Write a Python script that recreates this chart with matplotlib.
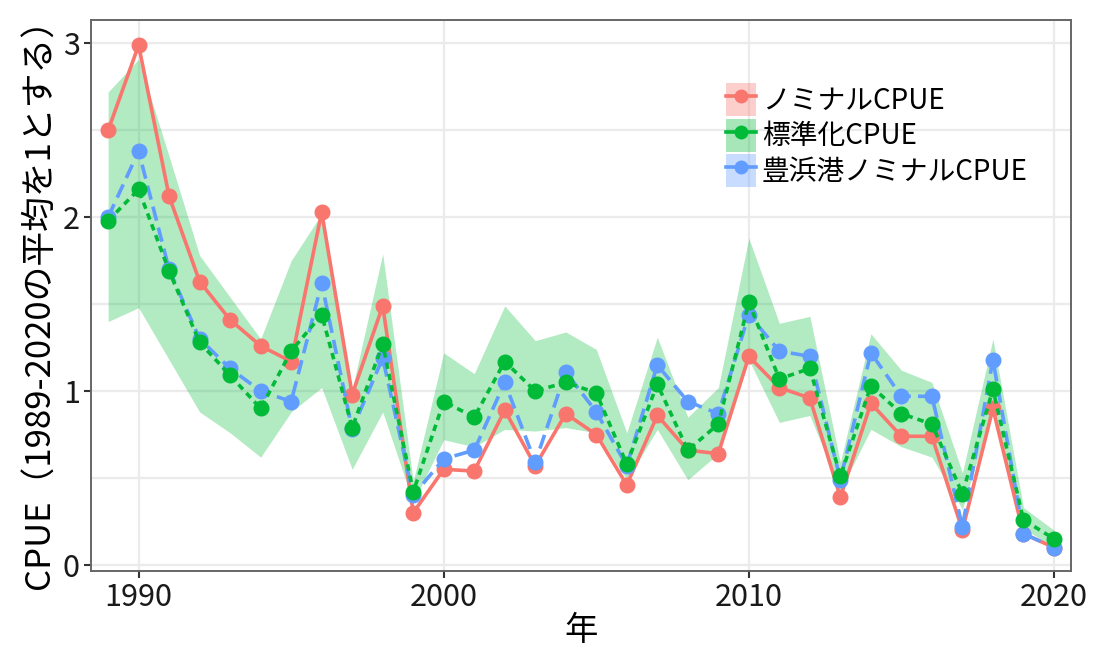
import matplotlib
matplotlib.use("Agg")
import matplotlib.pyplot as plt
from matplotlib.lines import Line2D
from matplotlib.patches import Patch
from matplotlib.legend_handler import HandlerTuple

plt.rcParams['font.family'] = ['Noto Sans CJK JP', 'DejaVu Sans']

# years covered by the series
years = list(range(1989, 2021))

# nominal CPUE (relative to 1989-2020 mean)
nominal = [2.50, 2.99, 2.12, 1.63, 1.41, 1.26, 1.17, 2.03, 0.98, 1.49,
           0.30, 0.55, 0.54, 0.89, 0.57, 0.87, 0.75, 0.46, 0.86, 0.66,
           0.64, 1.20, 1.02, 0.96, 0.39, 0.93, 0.74, 0.74, 0.20, 0.90,
           0.18, 0.10]

# standardized CPUE and its confidence band
standard = [1.98, 2.16, 1.69, 1.28, 1.09, 0.90, 1.23, 1.44, 0.79, 1.27,
            0.42, 0.94, 0.85, 1.17, 1.00, 1.05, 0.99, 0.58, 1.04, 0.66,
            0.81, 1.51, 1.07, 1.13, 0.51, 1.03, 0.87, 0.81, 0.41, 1.01,
            0.26, 0.15]
upper = [2.72, 2.91, 2.35, 1.78, 1.54, 1.30, 1.75, 2.02, 1.01, 1.79,
         0.48, 1.22, 1.10, 1.49, 1.29, 1.34, 1.24, 0.76, 1.31, 0.85,
         1.02, 1.88, 1.39, 1.43, 0.59, 1.33, 1.12, 1.05, 0.53, 1.30,
         0.33, 0.20]
lower = [1.40, 1.48, 1.18, 0.88, 0.76, 0.62, 0.88, 1.02, 0.55, 0.88,
         0.36, 0.72, 0.68, 0.78, 0.77, 0.79, 0.76, 0.49, 0.78, 0.49,
         0.64, 1.18, 0.82, 0.86, 0.43, 0.78, 0.68, 0.62, 0.32, 0.91,
         0.21, 0.10]

# nominal CPUE at Toyohama port
toyohama = [2.00, 2.38, 1.70, 1.30, 1.13, 1.00, 0.94, 1.62, 0.78, 1.19,
            0.40, 0.61, 0.66, 1.05, 0.59, 1.11, 0.88, 0.57, 1.15, 0.94,
            0.87, 1.44, 1.23, 1.20, 0.49, 1.22, 0.97, 0.97, 0.22, 1.18,
            0.18, 0.10]

labels = ["ノミナルCPUE", "標準化CPUE", "豊浜港ノミナルCPUE"]
c_red = "#F8766D"
c_green = "#00BA38"
c_blue = "#619CFF"

fig = plt.figure(figsize=(10.94, 6.57), dpi=100)
ax = fig.add_axes([0.0832, 0.1309, 0.8958, 0.8387])

ax.fill_between(years, lower, upper, color=c_green, alpha=0.3, linewidth=0, zorder=1)

lw = 2.6
ms = 10.5
ax.plot(years, nominal, color=c_red, lw=lw, marker="o", ms=ms, zorder=3)
ax.plot(years, toyohama, color=c_blue, lw=lw, marker="o", ms=ms,
        dashes=(4.0, 2.0), zorder=4)
ax.plot(years, standard, color=c_green, lw=lw, marker="o", ms=ms,
        dashes=(1.8, 1.4), zorder=5)

# axes, grid and frame
ax.set_xlim(1988.44, 2020.56)
ax.set_ylim(-0.035, 3.135)
ax.set_xticks([1990, 2000, 2010, 2020])
ax.set_yticks([0, 1, 2, 3])
ax.set_yticks([0.5, 1.5, 2.5], minor=True)
ax.grid(True, which="major", color="#EBEBEB", lw=1.6, zorder=0)
ax.grid(True, which="minor", axis="y", color="#EBEBEB", lw=1.6, zorder=0)
ax.set_axisbelow(True)
ax.tick_params(which="major", length=5, width=1.5, color="#333333",
               labelsize=22, labelcolor="#1a1a1a", pad=3)
ax.tick_params(which="minor", length=0)
for s in ax.spines.values():
    s.set_color("#666666")
    s.set_linewidth(1.4)

ax.set_xlabel("年", fontsize=24, labelpad=0)
ax.set_ylabel("CPUE（1989-2020の平均を1とする）", fontsize=25, labelpad=4)

# legend keys: filled box under a line with a point
handles = []
for col in [c_red, c_green, c_blue]:
    box = Patch(facecolor=col, alpha=0.35, edgecolor="none")
    ln = Line2D([], [], color=col, lw=lw, marker="o", ms=9)
    handles.append((box, ln))

leg = ax.legend(handles, labels, loc="upper left", bbox_to_anchor=(0.628, 0.92),
                frameon=False, fontsize=20, handler_map={tuple: HandlerTuple(ndivide=1, pad=0)},
                handlelength=1.1, handleheight=1.45, handletextpad=0.2,
                labelspacing=0.08, borderpad=0.2)

fig.savefig("out.png", dpi=100)
